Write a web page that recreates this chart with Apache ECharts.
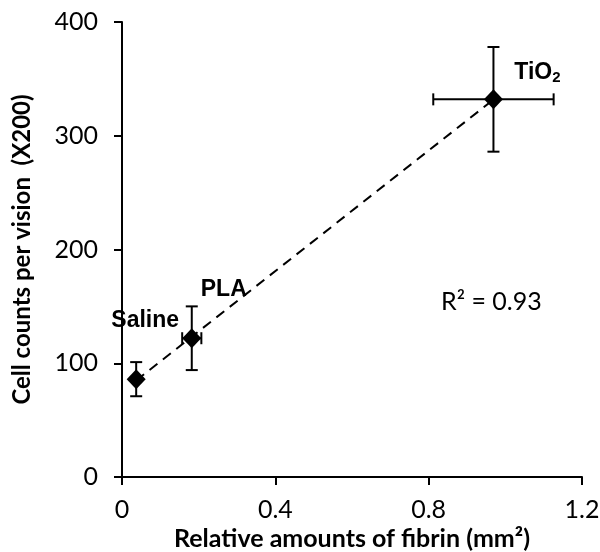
<!DOCTYPE html>
<html>
<head>
<meta charset="utf-8">
<script src="https://cdn.jsdelivr.net/npm/echarts@6/dist/echarts.min.js"></script>
<style>html,body{margin:0;padding:0;background:#fff;}#chart{width:600px;height:552px;}</style>
</head>
<body>
<div id="chart"></div>
<script>
// ---- data ----
const groups = ['Saline', 'PLA', 'TiO2'];
const fibrin = [0.037, 0.182, 0.969];      // x: relative amounts of fibrin (mm²)
const fibrinErr = [0, 0.025, 0.157];       // x error (±)
const cells = [86, 122, 332];              // y: cell counts per vision (X200)
const cellsErr = [15, 28, 46];             // y error (±)
const rSquared = '0.93';

// ---- linear trendline (least squares from the data) ----
const n = fibrin.length;
const mx = fibrin.reduce((a, b) => a + b, 0) / n;
const my = cells.reduce((a, b) => a + b, 0) / n;
let sxy = 0, sxx = 0;
for (let i = 0; i < n; i++) { sxy += (fibrin[i] - mx) * (cells[i] - my); sxx += (fibrin[i] - mx) ** 2; }
const slope = sxy / sxx, intercept = my - slope * mx;
const xMin = Math.min(...fibrin), xMax = Math.max(...fibrin);
const trend = [[xMin, intercept + slope * xMin], [xMax, intercept + slope * xMax]];

const labelOffsets = { 'Saline': [9, -59], 'PLA': [32, -49], 'TiO2': [44, -27] };
const labelText = { 'Saline': 'Saline', 'PLA': 'PLA', 'TiO2': '{m|TiO}{s|2}' };

const labelBase = { color: '#000', fontFamily: 'Liberation Sans', fontWeight: 'bold', fontSize: 23 };
const pointData = groups.map((g, i) => ({
  name: g,
  value: [fibrin[i], cells[i]],
  label: Object.assign({ show: true, position: 'inside', offset: labelOffsets[g], formatter: labelText[g],
    rich: {
      m: { color: '#000', fontFamily: 'Liberation Sans', fontWeight: 'bold', fontSize: 23 },
      s: { color: '#000', fontFamily: 'Liberation Sans', fontWeight: 'bold', fontSize: 15, padding: [12, 0, 0, 0] }
    } }, labelBase)
}));
const errData = groups.map((g, i) => [fibrin[i], cells[i], fibrinErr[i], cellsErr[i]]);

const chart = echarts.init(document.getElementById('chart'));
const tickFont = { fontFamily: 'Lato', fontSize: 25, color: '#000' };
const titleFont = { fontFamily: 'Lato', fontSize: 25, fontWeight: 'bold', color: '#000' };

chart.setOption({
  animation: false,
  grid: { left: 122, right: 18, top: 22, bottom: 75, containLabel: false, outerBoundsMode: 'none' },
  xAxis: {
    type: 'value', min: 0, max: 1.2, interval: 0.4,
    name: 'Relative amounts of fibrin (mm²)', nameLocation: 'middle', nameGap: 46,
    nameTextStyle: titleFont,
    axisLine: { show: true, onZero: false, lineStyle: { color: '#000', width: 2 } },
    axisTick: { show: true, inside: false, length: 8, lineStyle: { color: '#000', width: 2 } },
    axisLabel: Object.assign({ margin: 20, formatter: v => String(v) }, tickFont),
    splitLine: { show: false }
  },
  yAxis: {
    type: 'value', min: 0, max: 400, interval: 100,
    name: 'Cell counts per vision  (X200)', nameLocation: 'middle', nameGap: 88,
    nameTextStyle: { fontFamily: 'Lato', fontSize: 24, fontWeight: 'bold', color: '#000' },
    axisLine: { show: true, onZero: false, lineStyle: { color: '#000', width: 2 } },
    axisTick: { show: true, inside: false, length: 8, lineStyle: { color: '#000', width: 2 } },
    axisLabel: Object.assign({ margin: 24 }, tickFont),
    splitLine: { show: false }
  },
  graphic: [{
    type: 'text', left: 441, top: 289,
    style: { text: 'R² = ' + rSquared, font: '25px Lato', fill: '#000' }
  }],
  series: [
    {
      type: 'line', data: trend, symbol: 'none', silent: true, z: 2,
      lineStyle: { color: '#000', width: 2, type: [10, 7] }
    },
    {
      type: 'custom', z: 3, data: errData,
      renderItem: function (params, api) {
        const x = api.value(0), y = api.value(1), ex = api.value(2), ey = api.value(3);
        const cap = 6;
        const style = { stroke: '#000', lineWidth: 2 };
        const children = [];
        if (ey > 0) {
          const top = api.coord([x, y + ey]), bot = api.coord([x, y - ey]);
          children.push({ type: 'line', shape: { x1: top[0], y1: top[1], x2: bot[0], y2: bot[1] }, style });
          children.push({ type: 'line', shape: { x1: top[0] - cap, y1: top[1], x2: top[0] + cap, y2: top[1] }, style });
          children.push({ type: 'line', shape: { x1: bot[0] - cap, y1: bot[1], x2: bot[0] + cap, y2: bot[1] }, style });
        }
        if (ex > 0) {
          const l = api.coord([x - ex, y]), r = api.coord([x + ex, y]);
          children.push({ type: 'line', shape: { x1: l[0], y1: l[1], x2: r[0], y2: r[1] }, style });
          children.push({ type: 'line', shape: { x1: l[0], y1: l[1] - cap, x2: l[0], y2: l[1] + cap }, style });
          children.push({ type: 'line', shape: { x1: r[0], y1: r[1] - cap, x2: r[0], y2: r[1] + cap }, style });
        }
        return { type: 'group', children };
      }
    },
    {
      type: 'scatter', z: 4, symbol: 'diamond', symbolSize: [19, 20],
      itemStyle: { color: '#000', opacity: 1 },
      data: pointData
    }
  ]
});
</script>
</body>
</html>
